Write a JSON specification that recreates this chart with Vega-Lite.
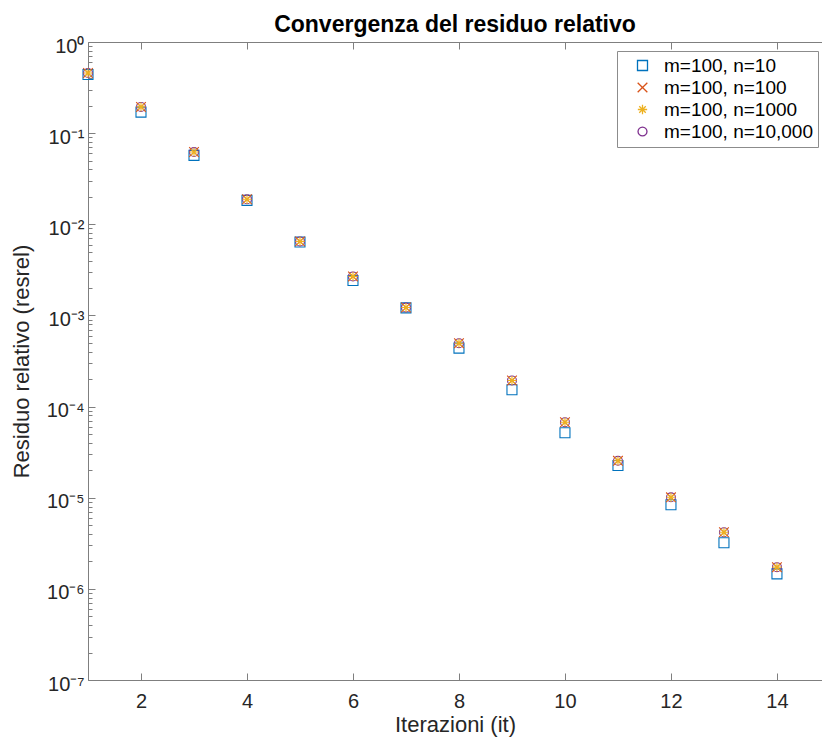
{
  "$schema": "https://vega.github.io/schema/vega-lite/v6.json",
  "autosize": {"type": "none"},
  "width": 734,
  "height": 638,
  "padding": {"left": 88, "top": 42, "right": 0, "bottom": 59},
  "background": "white",
  "title": {"text": "Convergenza del residuo relativo", "font": "Liberation Sans", "fontSize": 23, "fontWeight": "bold", "color": "#000000", "anchor": "middle", "offset": -1},
  "config": {
    "view": {"stroke": null},
    "axis": {"domainColor": "#7f7f7f", "tickColor": "#7f7f7f", "labelColor": "#262626", "titleColor": "#262626", "labelFont": "Liberation Sans", "titleFont": "Liberation Sans", "titleFontWeight": "normal", "grid": false, "domainWidth": 1, "tickWidth": 1}
  },
  "data": {"values": [
    {"it": 1, "serie": "m=100, n=10", "resrel": 0.44},
    {"it": 2, "serie": "m=100, n=10", "resrel": 0.170},
    {"it": 3, "serie": "m=100, n=10", "resrel": 0.057},
    {"it": 4, "serie": "m=100, n=10", "resrel": 0.0183},
    {"it": 5, "serie": "m=100, n=10", "resrel": 0.0064},
    {"it": 6, "serie": "m=100, n=10", "resrel": 0.00242},
    {"it": 7, "serie": "m=100, n=10", "resrel": 0.00121},
    {"it": 8, "serie": "m=100, n=10", "resrel": 0.000438},
    {"it": 9, "serie": "m=100, n=10", "resrel": 0.000153},
    {"it": 10, "serie": "m=100, n=10", "resrel": 0.0000516},
    {"it": 11, "serie": "m=100, n=10", "resrel": 0.0000226},
    {"it": 12, "serie": "m=100, n=10", "resrel": 0.00000836},
    {"it": 13, "serie": "m=100, n=10", "resrel": 0.0000032},
    {"it": 14, "serie": "m=100, n=10", "resrel": 0.00000146},
    {"it": 1, "serie": "m=100, n=100", "resrel": 0.457},
    {"it": 2, "serie": "m=100, n=100", "resrel": 0.194},
    {"it": 3, "serie": "m=100, n=100", "resrel": 0.062},
    {"it": 4, "serie": "m=100, n=100", "resrel": 0.0188},
    {"it": 5, "serie": "m=100, n=100", "resrel": 0.00649},
    {"it": 6, "serie": "m=100, n=100", "resrel": 0.00268},
    {"it": 7, "serie": "m=100, n=100", "resrel": 0.00122},
    {"it": 8, "serie": "m=100, n=100", "resrel": 0.000496},
    {"it": 9, "serie": "m=100, n=100", "resrel": 0.000193},
    {"it": 10, "serie": "m=100, n=100", "resrel": 0.0000674},
    {"it": 11, "serie": "m=100, n=100", "resrel": 0.0000254},
    {"it": 12, "serie": "m=100, n=100", "resrel": 0.0000101},
    {"it": 13, "serie": "m=100, n=100", "resrel": 0.00000418},
    {"it": 14, "serie": "m=100, n=100", "resrel": 0.00000173},
    {"it": 1, "serie": "m=100, n=1000", "resrel": 0.457},
    {"it": 2, "serie": "m=100, n=1000", "resrel": 0.194},
    {"it": 3, "serie": "m=100, n=1000", "resrel": 0.062},
    {"it": 4, "serie": "m=100, n=1000", "resrel": 0.0188},
    {"it": 5, "serie": "m=100, n=1000", "resrel": 0.00649},
    {"it": 6, "serie": "m=100, n=1000", "resrel": 0.00268},
    {"it": 7, "serie": "m=100, n=1000", "resrel": 0.00122},
    {"it": 8, "serie": "m=100, n=1000", "resrel": 0.000496},
    {"it": 9, "serie": "m=100, n=1000", "resrel": 0.000193},
    {"it": 10, "serie": "m=100, n=1000", "resrel": 0.0000674},
    {"it": 11, "serie": "m=100, n=1000", "resrel": 0.0000254},
    {"it": 12, "serie": "m=100, n=1000", "resrel": 0.0000101},
    {"it": 13, "serie": "m=100, n=1000", "resrel": 0.00000418},
    {"it": 14, "serie": "m=100, n=1000", "resrel": 0.00000173},
    {"it": 1, "serie": "m=100, n=10,000", "resrel": 0.457},
    {"it": 2, "serie": "m=100, n=10,000", "resrel": 0.194},
    {"it": 3, "serie": "m=100, n=10,000", "resrel": 0.062},
    {"it": 4, "serie": "m=100, n=10,000", "resrel": 0.0188},
    {"it": 5, "serie": "m=100, n=10,000", "resrel": 0.00649},
    {"it": 6, "serie": "m=100, n=10,000", "resrel": 0.00268},
    {"it": 7, "serie": "m=100, n=10,000", "resrel": 0.00122},
    {"it": 8, "serie": "m=100, n=10,000", "resrel": 0.000496},
    {"it": 9, "serie": "m=100, n=10,000", "resrel": 0.000193},
    {"it": 10, "serie": "m=100, n=10,000", "resrel": 0.0000674},
    {"it": 11, "serie": "m=100, n=10,000", "resrel": 0.0000254},
    {"it": 12, "serie": "m=100, n=10,000", "resrel": 0.0000101},
    {"it": 13, "serie": "m=100, n=10,000", "resrel": 0.00000418},
    {"it": 14, "serie": "m=100, n=10,000", "resrel": 0.00000173}
  ]},
  "resolve": {"axis": {"x": "independent", "y": "independent"}},
  "layer": [
    {
      "mark": {"type": "point", "filled": false, "strokeWidth": 1.1, "opacity": 1},
      "encoding": {
        "x": {"field": "it", "type": "quantitative",
          "scale": {"domain": [1, 14.85], "nice": false, "zero": false},
          "axis": {"orient": "bottom", "values": [2, 4, 6, 8, 10, 12, 14], "tickSize": -7, "labelPadding": 18, "labelFontSize": 20, "title": "Iterazioni (it)", "titleFontSize": 22, "titlePadding": 3}},
        "y": {"field": "resrel", "type": "quantitative",
          "scale": {"type": "log", "domain": [1e-7, 1], "nice": false},
          "axis": {"orient": "left",
            "values": [1e-7, 2e-7, 3e-7, 4e-7, 5e-7, 6e-7, 7e-7, 8e-7, 9e-7, 1e-6, 2e-6, 3e-6, 4e-6, 5e-6, 6e-6, 7e-6, 8e-6, 9e-6, 1e-5, 2e-5, 3e-5, 4e-5, 5e-5, 6e-5, 7e-5, 8e-5, 9e-5, 1e-4, 2e-4, 3e-4, 4e-4, 5e-4, 6e-4, 7e-4, 8e-4, 9e-4, 1e-3, 2e-3, 3e-3, 4e-3, 5e-3, 6e-3, 7e-3, 8e-3, 9e-3, 1e-2, 2e-2, 3e-2, 4e-2, 5e-2, 6e-2, 7e-2, 8e-2, 9e-2, 0.1, 0.2, 0.3, 0.4, 0.5, 0.6, 0.7, 0.8, 0.9, 1],
            "labelExpr": "abs(log(datum.value)/LN10 - round(log(datum.value)/LN10)) < 0.000001 ? '10' + (round(log(datum.value)/LN10) < 0 ? '⁻' : '') + substring('⁰¹²³⁴⁵⁶⁷⁸⁹', abs(round(log(datum.value)/LN10)), abs(round(log(datum.value)/LN10)) + 1) : ''",
            "tickSize": -4, "labelOffset": 4,
            "labelPadding": 8, "labelFontSize": 20, "labelOverlap": false, "labelBound": false, "labelFlush": false,
            "title": "Residuo relativo (resrel)", "titleFontSize": 22, "titlePadding": 13}},
        "color": {"field": "serie", "type": "nominal",
          "scale": {"domain": ["m=100, n=10", "m=100, n=100", "m=100, n=1000", "m=100, n=10,000"], "range": ["#0072BD", "#D95319", "#EDB120", "#7E2F8E"]},
          "legend": {"title": null, "orient": "none", "legendX": 529, "legendY": 9, "strokeColor": "#8c8c8c", "fillColor": "white", "padding": 5, "labelFont": "Liberation Sans", "labelFontSize": 19, "labelColor": "#000000", "symbolSize": 120, "symbolStrokeWidth": 1.3, "symbolOffset": 11, "labelOffset": 12, "rowPadding": 2}},
        "shape": {"field": "serie", "type": "nominal",
          "scale": {"domain": ["m=100, n=10", "m=100, n=100", "m=100, n=1000", "m=100, n=10,000"], "range": ["square", "M-1,-1L1,1M-1,1L1,-1", "M-1,0L1,0M0,-1L0,1M-0.7,-0.7L0.7,0.7M-0.7,0.7L0.7,-0.7", "circle"]}},
        "size": {"field": "serie", "type": "nominal", "legend": null,
          "scale": {"domain": ["m=100, n=10", "m=100, n=100", "m=100, n=1000", "m=100, n=10,000"], "range": [100, 80, 130, 210]}},
        "order": {"field": "serie", "sort": "ascending"}
      }
    },
    {
      "mark": {"type": "point", "opacity": 0},
      "encoding": {
        "x": {"field": "it", "type": "quantitative",
          "axis": {"orient": "top", "values": [2, 4, 6, 8, 10, 12, 14], "tickSize": -7, "labels": false, "title": null}},
        "y": {"field": "resrel", "type": "quantitative",
          "axis": {"orient": "left", "domain": false, "labels": false, "title": null, "tickSize": -7,
            "values": [1e-7, 1e-6, 1e-5, 1e-4, 1e-3, 1e-2, 0.1, 1]}}
      }
    }
  ]
}
